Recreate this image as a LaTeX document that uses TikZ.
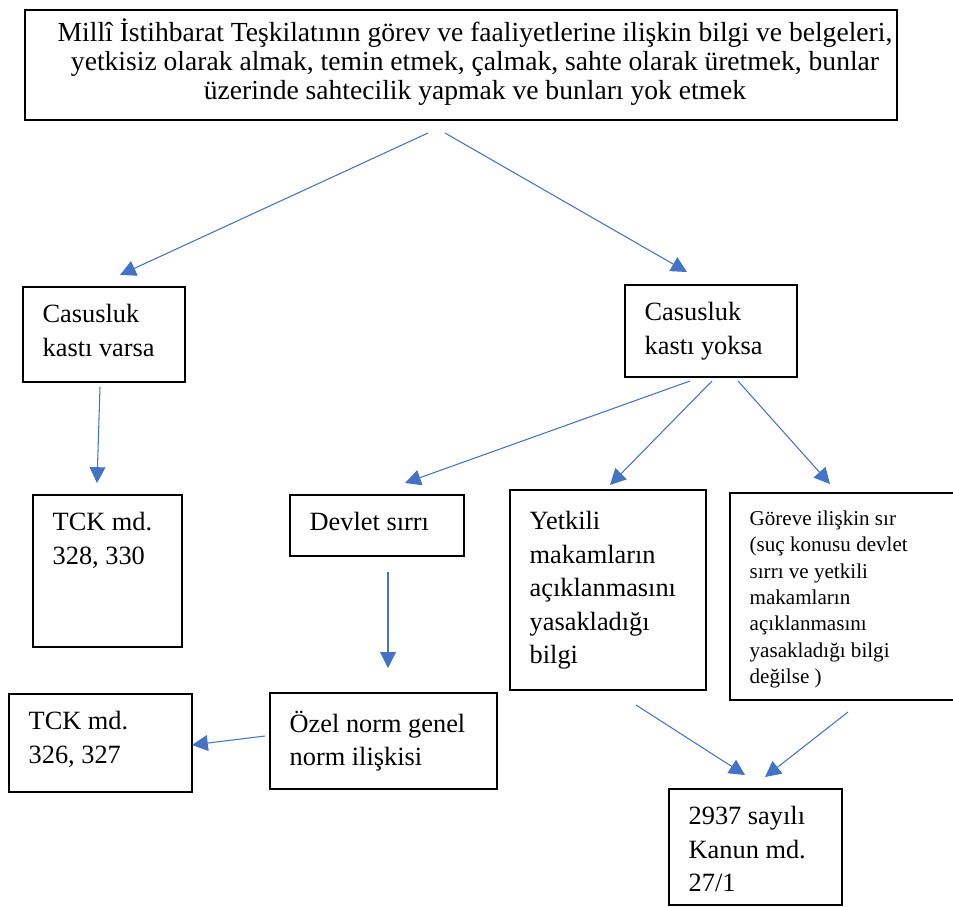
\documentclass[tikz,border=0pt]{standalone}
\usepackage{fontspec}
\setmainfont{Liberation Serif}
\usetikzlibrary{arrows.meta}
\definecolor{arrowblue}{HTML}{4472C4}

\begin{document}
\begin{tikzpicture}[x=0.02cm,y=-0.02cm,
  box/.style={draw=black, line width=0.8pt, rectangle, inner sep=0pt},
  txt/.style={anchor=north west, align=left, inner xsep=0.4cm, inner ysep=0.36cm, font=\fontsize{15}{19}\selectfont},
  arr/.style={draw=arrowblue, line width=0.6pt, -{Triangle[length=9pt,width=9pt]}}]
  \clip (0,0) rectangle (953,906);

  % boxes
  \node[box, minimum width=17.44cm, minimum height=2.2cm, label={[align=center, anchor=center, xshift=0.28cm, yshift=0.06cm, font=\fontsize{15.7}{16.7}\selectfont]center:{Millî İstihbarat Teşkilatının görev ve faaliyetlerine ilişkin bilgi ve belgeleri,\\
     yetkisiz olarak almak, temin etmek, çalmak, sahte olarak üretmek, bunlar\\
     üzerinde sahtecilik yapmak ve bunları yok etmek}}] (mit) at (461,65) {};
  \node[box, minimum width=3.24cm, minimum height=1.9cm, label={[txt]north west:{Casusluk\\kastı varsa}}] (varsa) at (104,334.5) {};
  \node[box, minimum width=3.44cm, minimum height=1.84cm, label={[txt]north west:{Casusluk\\kastı yoksa}}] (yoksa) at (711,331) {};
  \node[box, minimum width=2.98cm, minimum height=3.04cm, label={[txt]north west:{TCK md.\\328, 330}}] (tckA) at (107.5,571) {};
  \node[box, minimum width=3.48cm, minimum height=1.22cm, label={[txt]north west:{Devlet sırrı}}] (devlet) at (377,525.5) {};
  \node[box, minimum width=3.92cm, minimum height=4cm, label={[txt, yshift=-0.08cm]north west:{Yetkili\\makamların\\açıklanmasını\\yasakladığı\\bilgi}}] (yetkili) at (608,590) {};
  \node[box, minimum width=4.6cm, minimum height=4.14cm, label={[txt, font=\fontsize{12}{15}\selectfont]north west:{Göreve ilişkin sır\\(suç konusu devlet\\sırrı ve yetkili\\makamların\\açıklanmasını\\yasakladığı bilgi\\değilse )}}] (goreve) at (845,596.5) {};
  \node[box, minimum width=4.54cm, minimum height=1.92cm, label={[txt]north west:{Özel norm genel\\norm ilişkisi}}] (ozel) at (383.5,741) {};
  \node[box, minimum width=3.66cm, minimum height=1.96cm, label={[txt]north west:{TCK md.\\326, 327}}] (tckB) at (100.5,743) {};
  \node[box, minimum width=3.46cm, minimum height=2.32cm, label={[txt]north west:{2937 sayılı\\Kanun md.\\27/1}}] (kanun) at (755.5,847) {};

  % arrow ends
  \coordinate (mitL) at (428,133);
  \coordinate (mitR) at (445,133);
  \coordinate (varsaIn) at (120,275);
  \coordinate (yoksaIn) at (687,272);
  \coordinate (varsaOut) at (100,387);
  \coordinate (tckAIn) at (97,483);
  \coordinate (yoksaL) at (690,381);
  \coordinate (yoksaM) at (712,381);
  \coordinate (yoksaR) at (738,381);
  \coordinate (devletIn) at (405,483);
  \coordinate (yetkiliIn) at (610,485);
  \coordinate (gorevIn) at (830,484);
  \coordinate (devletOut) at (388,572);
  \coordinate (ozelIn) at (388,668);
  \coordinate (ozelOut) at (265,736);
  \coordinate (tckBIn) at (192,745);
  \coordinate (yetkiliOut) at (636,705);
  \coordinate (goreveOut) at (848,712);
  \coordinate (kanunL) at (745,775);
  \coordinate (kanunR) at (765,777);

  \draw[arr] (mitL) -- (varsaIn);
  \draw[arr] (mitR) -- (yoksaIn);
  \draw[arr] (varsaOut) -- (tckAIn);
  \draw[arr] (yoksaL) -- (devletIn);
  \draw[arr] (yoksaM) -- (yetkiliIn);
  \draw[arr] (yoksaR) -- (gorevIn);
  \draw[arr] (devletOut) -- (ozelIn);
  \draw[arr] (ozelOut) -- (tckBIn);
  \draw[arr] (yetkiliOut) -- (kanunL);
  \draw[arr] (goreveOut) -- (kanunR);
\end{tikzpicture}
\end{document}
